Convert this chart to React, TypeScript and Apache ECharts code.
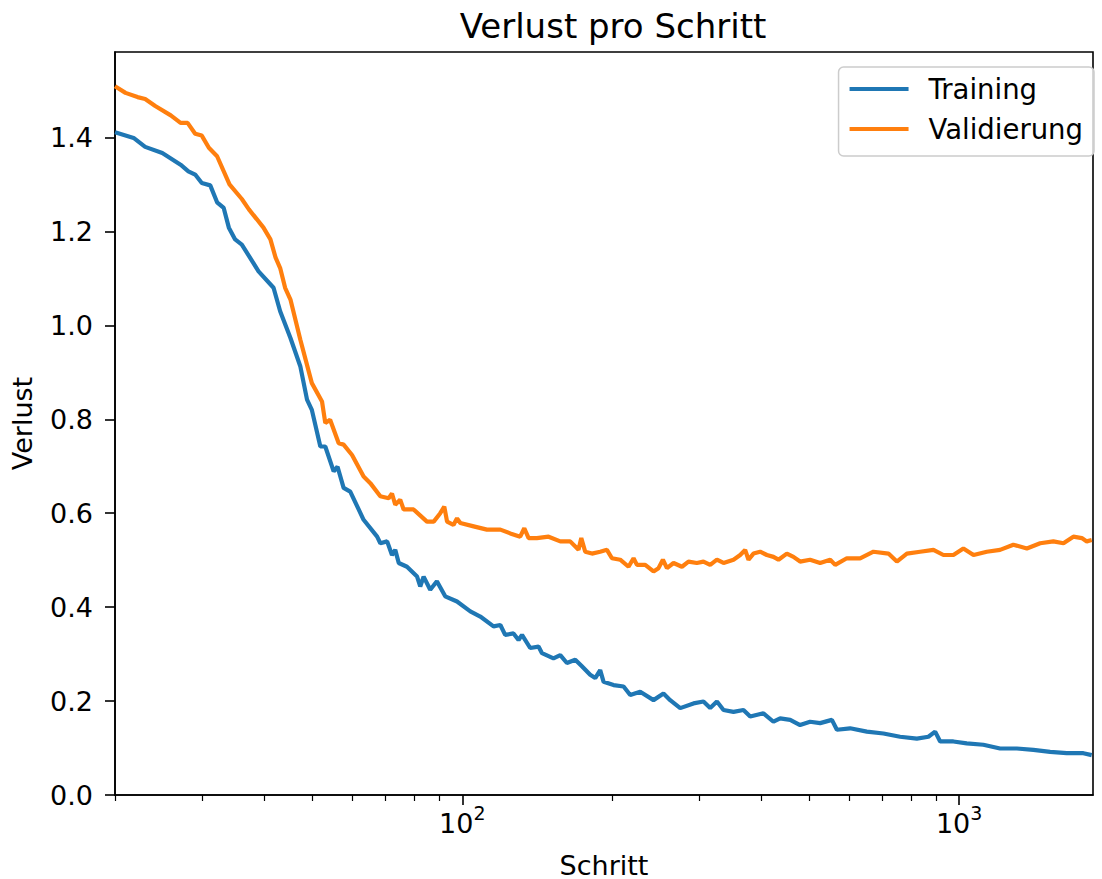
import React, { useEffect, useRef } from "react";
import * as echarts from "echarts";

const trainSteps = [
  20, 21.8, 23.0, 24.9, 27.1, 28.1, 29.0, 29.9, 31.1, 32.1,
  33.1, 33.9, 34.9, 36.0, 38.9, 41.7, 43.0, 45.1, 47.2, 48.7,
  49.8, 51.8, 53.0, 55.1, 56.1, 57.7, 59.5, 63.3, 67.4, 68.4,
  70.6, 72.2, 73.3, 74.5, 77.4, 81.1, 82.3, 83.6, 86.2, 88.9,
  92.4, 97.6, 103.8, 108.7, 115.6, 119.3, 122.0, 126.8, 129.8, 131.9,
  137.0, 142.4, 144.7, 152.6, 157.5, 162.4, 168.8, 174.1, 180.9, 185.2,
  189.5, 192.5, 201.6, 211.2, 217.8, 228.1, 242.6, 254.1, 262.1, 274.6,
  292.0, 305.8, 315.5, 325.5, 335.6, 351.5, 368.1, 379.8, 403.8, 423.0,
  436.3, 457.1, 478.6, 501.2, 525.2, 554.6, 567.6, 603.4, 652.1, 704.2,
  760.7, 822.2, 867.5, 894.9, 916.0, 973.9, 1036, 1119, 1209, 1307,
  1411, 1525, 1647, 1779, 1849,
];
const trainLoss = [
  1.411, 1.399, 1.380, 1.367, 1.342, 1.328, 1.321, 1.303, 1.298, 1.262,
  1.250, 1.208, 1.183, 1.172, 1.115, 1.080, 1.030, 0.973, 0.913, 0.842,
  0.820, 0.742, 0.742, 0.689, 0.699, 0.654, 0.646, 0.586, 0.550, 0.536,
  0.540, 0.511, 0.522, 0.494, 0.486, 0.465, 0.444, 0.465, 0.437, 0.455,
  0.423, 0.412, 0.391, 0.380, 0.359, 0.362, 0.341, 0.344, 0.330, 0.341,
  0.313, 0.316, 0.302, 0.291, 0.298, 0.281, 0.288, 0.274, 0.256, 0.249,
  0.266, 0.241, 0.234, 0.231, 0.213, 0.220, 0.202, 0.216, 0.202, 0.185,
  0.195, 0.199, 0.185, 0.199, 0.181, 0.177, 0.181, 0.167, 0.174, 0.156,
  0.163, 0.160, 0.149, 0.156, 0.153, 0.160, 0.139, 0.142, 0.135, 0.131,
  0.124, 0.120, 0.124, 0.135, 0.114, 0.114, 0.110, 0.107, 0.099, 0.099,
  0.096, 0.092, 0.089, 0.089, 0.085,
];
const valSteps = [
  20, 21.0, 22.2, 23.0, 24.1, 25.9, 27.1, 28.0, 29.0, 29.9,
  30.9, 32.1, 34.0, 36.0, 37.2, 39.8, 41.1, 42.1, 43.0, 44.0,
  45.1, 47.2, 49.8, 52.2, 53.0, 54.2, 56.4, 57.7, 60.0, 63.3,
  65.3, 68.4, 71.1, 72.2, 73.3, 75.0, 76.2, 79.8, 84.9, 87.6,
  90.3, 92.0, 93.2, 96.0, 97.6, 99.1, 105.4, 112.1, 119.3, 124.9,
  130.8, 133.3, 136.0, 141.3, 149.2, 157.5, 164.9, 171.4, 173.6, 176.8,
  182.4, 189.5, 195.5, 200.1, 207.9, 216.1, 221.2, 224.7, 233.5, 242.6,
  248.3, 253.4, 258.2, 266.2, 276.8, 285.3, 296.6, 305.8, 315.5, 325.5,
  335.6, 351.5, 362.6, 371.0, 376.8, 385.6, 397.7, 410.3, 423.0, 432.9,
  450.1, 464.1, 478.6, 501.2, 525.2, 550.2, 563.1, 594.3, 632.1, 672.4,
  720.8, 749.4, 785.1, 834.8, 887.9, 930.0, 973.9, 1020, 1069, 1137,
  1209, 1286, 1369, 1456, 1548, 1622, 1698, 1766, 1807, 1849,
];
const valLoss = [
  1.509, 1.495, 1.486, 1.482, 1.467, 1.447, 1.431, 1.431, 1.408, 1.404,
  1.378, 1.360, 1.300, 1.269, 1.247, 1.208, 1.183, 1.144, 1.122, 1.080,
  1.055, 0.970, 0.877, 0.838, 0.792, 0.799, 0.749, 0.746, 0.724, 0.678,
  0.664, 0.636, 0.632, 0.642, 0.618, 0.629, 0.608, 0.608, 0.582, 0.582,
  0.600, 0.614, 0.582, 0.575, 0.589, 0.579, 0.572, 0.565, 0.565, 0.557,
  0.550, 0.568, 0.547, 0.547, 0.550, 0.540, 0.540, 0.522, 0.547, 0.518,
  0.514, 0.518, 0.522, 0.504, 0.501, 0.486, 0.504, 0.490, 0.490, 0.476,
  0.483, 0.501, 0.483, 0.494, 0.486, 0.497, 0.494, 0.497, 0.490, 0.501,
  0.494, 0.501, 0.511, 0.522, 0.501, 0.514, 0.518, 0.511, 0.507, 0.501,
  0.514, 0.507, 0.497, 0.501, 0.494, 0.501, 0.490, 0.504, 0.504, 0.518,
  0.514, 0.497, 0.514, 0.518, 0.522, 0.511, 0.511, 0.525, 0.511, 0.518,
  0.522, 0.533, 0.525, 0.536, 0.540, 0.536, 0.550, 0.547, 0.540, 0.543,
];

const yTicks = [0, 0.2, 0.4, 0.6, 0.8, 1.0, 1.2, 1.4];
const xMajorTicks = [100, 1000];
const xMinorTicks = [20, 30, 40, 50, 60, 70, 80, 90, 200, 300, 400, 500, 600, 700, 800, 900];

const FONT = "DejaVu Sans";
const X_MIN = 20;
const X_MAX = 1860;
const Y_MAX = 1.582;

export default function App() {
  const ref = useRef<HTMLDivElement>(null);

  useEffect(() => {
    if (!ref.current) return;
    const chart = echarts.init(ref.current, undefined, { renderer: "svg" });
    const option: any = {
      animation: false,
      backgroundColor: "#ffffff",
      title: {
        text: "Verlust pro Schritt",
        left: 608,
        top: 4,
        textAlign: "center",
        textStyle: { fontFamily: FONT, fontSize: 34, fontWeight: "normal", color: "#000" },
      },
      legend: {
        orient: "vertical",
        right: 8,
        top: 67,
        icon: "rect",
        itemWidth: 59,
        itemHeight: 4,
        itemGap: 10,
        padding: [7, 11, 12, 11],
        borderColor: "#cccccc",
        borderWidth: 1.5,
        borderRadius: 5,
        backgroundColor: "rgba(255,255,255,0.8)",
        textStyle: {
          fontFamily: FONT,
          fontSize: 27.5,
          color: "#000",
          lineHeight: 30,
          padding: [0, 0, 0, 15],
        },
        data: ["Training", "Validierung"],
      },
      grid: {
        left: 115,
        right: 9,
        top: 52,
        bottom: 84,
        outerBoundsMode: "none",
        containLabel: false,
        show: true,
        borderColor: "#000",
        borderWidth: 1.6,
        backgroundColor: "transparent",
      },
      xAxis: [
        {
          type: "log",
          logBase: 10,
          min: X_MIN,
          max: X_MAX,
          position: "bottom",
          name: "Schritt",
          nameLocation: "middle",
          nameGap: 58,
          nameTextStyle: { fontFamily: FONT, fontSize: 27, color: "#000", lineHeight: 24 },
          axisLine: { show: true, lineStyle: { color: "#000", width: 1.6 } },
          axisTick: { show: true, customValues: xMajorTicks, length: 10, lineStyle: { color: "#000", width: 1.6 } },
          axisLabel: {
            customValues: xMajorTicks,
            margin: 8,
            formatter: (v: number) => "{a|10}{b|" + Math.round(Math.log10(v)) + "}",
            rich: {
              a: { fontFamily: FONT, fontSize: 27, color: "#000", lineHeight: 34, verticalAlign: "bottom" },
              b: { fontFamily: FONT, fontSize: 19, color: "#000", lineHeight: 20, verticalAlign: "top" },
            },
          },
          splitLine: { show: false },
        },
        {
          type: "log",
          logBase: 10,
          min: X_MIN,
          max: X_MAX,
          position: "bottom",
          axisLine: { show: false },
          axisTick: { show: true, customValues: xMinorTicks, length: 6, lineStyle: { color: "#000", width: 1.2 } },
          axisLabel: { show: false },
          splitLine: { show: false },
        },
      ],
      yAxis: {
        type: "value",
        min: 0,
        max: Y_MAX,
        name: "Verlust",
        nameLocation: "middle",
        nameGap: 79,
        nameTextStyle: { fontFamily: FONT, fontSize: 27, color: "#000" },
        axisLine: { show: true, lineStyle: { color: "#000", width: 1.6 } },
        axisTick: { show: true, customValues: yTicks, length: 10, lineStyle: { color: "#000", width: 1.6 } },
        axisLabel: {
          customValues: yTicks,
          margin: 22,
          fontFamily: FONT,
          fontSize: 27,
          color: "#000",
          formatter: (v: number) => v.toFixed(1),
        },
        splitLine: { show: false },
      },
      series: [
        {
          name: "Training",
          type: "line",
          xAxisIndex: 0,
          data: trainSteps.map((s, i) => [s, trainLoss[i]]),
          showSymbol: false,
          symbol: "none",
          color: "#1f77b4",
          lineStyle: { color: "#1f77b4", width: 4.2 },
          clip: true,
        },
        {
          name: "Validierung",
          type: "line",
          xAxisIndex: 0,
          data: valSteps.map((s, i) => [s, valLoss[i]]),
          showSymbol: false,
          symbol: "none",
          color: "#ff7f0e",
          lineStyle: { color: "#ff7f0e", width: 4.2 },
          clip: true,
        },
      ],
    };
    chart.setOption(option);
    return () => chart.dispose();
  }, []);

  return (
    <div
      ref={ref}
      style={{ position: "absolute", left: 0, top: 0, width: 1102, height: 879, background: "#fff" }}
    />
  );
}
